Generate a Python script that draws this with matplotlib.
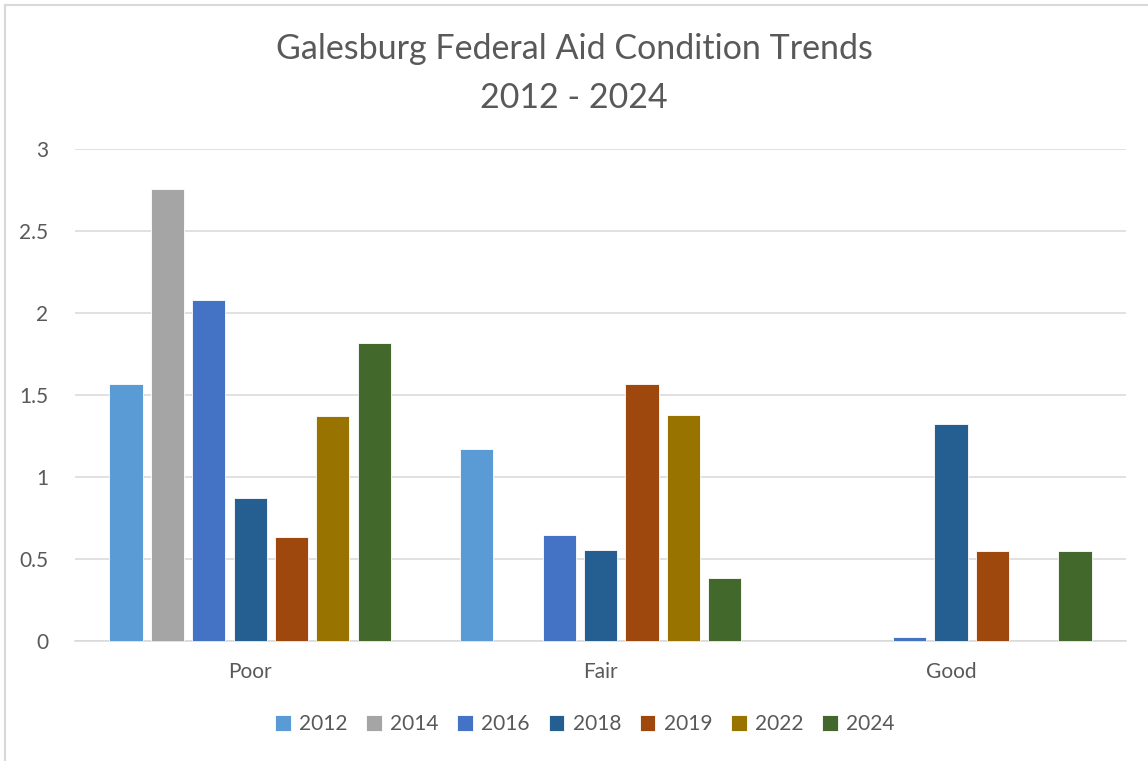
import numpy as np
import matplotlib
matplotlib.use("Agg")
import matplotlib.pyplot as plt
from matplotlib.lines import Line2D

# data
categories = ["Poor", "Fair", "Good"]
years = ["2012", "2014", "2016", "2018", "2019", "2022", "2024"]
values_2012 = [1.567, 1.173, 0.0]
values_2014 = [2.757, 0.0, 0.0]
values_2016 = [2.077, 0.644, 0.027]
values_2018 = [0.869, 0.555, 1.321]
values_2019 = [0.634, 1.565, 0.551]
values_2022 = [1.371, 1.379, 0.0]
values_2024 = [1.815, 0.382, 0.551]
series = [values_2012, values_2014, values_2016, values_2018,
          values_2019, values_2022, values_2024]

colors = ["#5B9BD5", "#A5A5A5", "#4472C4", "#255E91",
          "#9E480E", "#997300", "#43682B"]

plt.rcParams['font.family'] = ['Lato', 'DejaVu Sans']
textColor = "#595959"
gridColor = "#D9D9D9"

fig = plt.figure(figsize=(11.48, 7.61), dpi=100)
ax = fig.add_axes([0.0653, 0.1577, 0.9156, 0.6465])

x = np.arange(len(categories))
pitch = 0.118
barWidth = 0.095
for i, (vals, col) in enumerate(zip(series, colors)):
    offset = (i - (len(series) - 1) / 2) * pitch
    ax.bar(x + offset, vals, width=barWidth, color=col, label=years[i],
           edgecolor="white", linewidth=0.6, zorder=3)

ax.set_xlim(-0.5, len(categories) - 0.5)
ax.set_ylim(0, 3)
ax.set_yticks([0, 0.5, 1, 1.5, 2, 2.5, 3])
ax.set_yticklabels(["0", "0.5", "1", "1.5", "2", "2.5", "3"])
ax.set_xticks(x)
ax.set_xticklabels(categories)
ax.yaxis.grid(True, color=gridColor, linewidth=1.1, zorder=0)
ax.set_axisbelow(True)
for side in ["top", "right", "left"]:
    ax.spines[side].set_visible(False)
ax.spines["bottom"].set_color(gridColor)
ax.spines["bottom"].set_linewidth(1.1)
ax.tick_params(axis="both", length=0, labelsize=15, colors=textColor)
ax.tick_params(axis="y", pad=19)
ax.tick_params(axis="x", pad=15)

fig.text(0.5, 0.935, "Galesburg Federal Aid Condition Trends", ha="center",
         va="center", fontsize=24.5, color=textColor)
fig.text(0.5, 0.871, "2012 - 2024", ha="center", va="center",
         fontsize=24.5, color=textColor)

leg = ax.legend(loc="center", bbox_to_anchor=(0.485, -0.169), ncol=7,
                frameon=False, fontsize=15, handlelength=0.75,
                handleheight=0.75, handletextpad=0.4, columnspacing=0.9)
for t in leg.get_texts():
    t.set_color(textColor)

# chart border (left and top edges visible in the crop)
fig.add_artist(Line2D([5 / 1148, 5 / 1148], [0, 1 - 5 / 761],
                      transform=fig.transFigure, color=gridColor, linewidth=1.5))
fig.add_artist(Line2D([5 / 1148, 1], [1 - 5 / 761, 1 - 5 / 761],
                      transform=fig.transFigure, color=gridColor, linewidth=1.5))

fig.savefig("out.png", dpi=100)
